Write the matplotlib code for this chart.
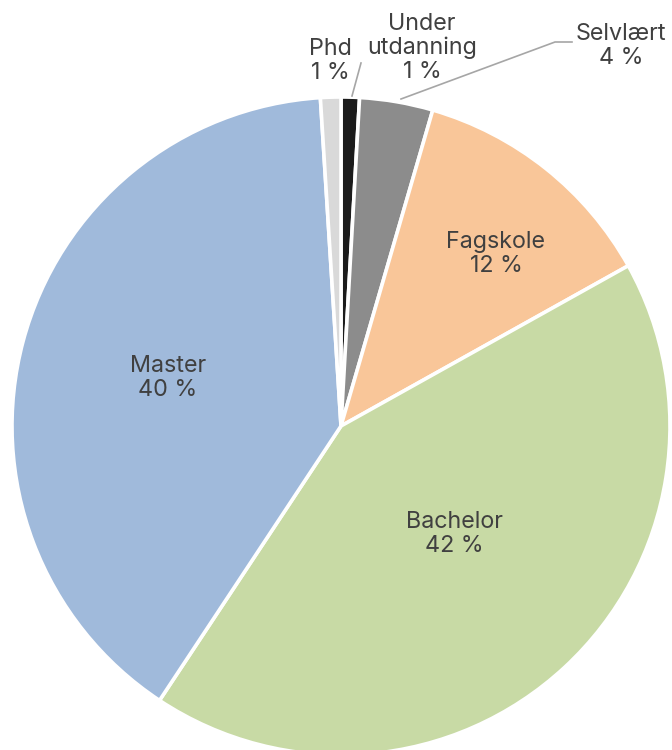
import matplotlib
matplotlib.use('Agg')
import matplotlib.pyplot as plt
import numpy as np

plt.rcParams['font.family'] = ['Inter', 'DejaVu Sans']

# share of respondents by education, clockwise from 12 o'clock
categories = ['Under\nutdanning', 'Selvlært', 'Fagskole', 'Bachelor', 'Master', 'Phd']
values = [0.9, 3.6, 12.4, 42.4, 39.7, 1.0]
colors = ['#1b1b1b', '#8c8c8c', '#f9c699', '#c8daa5', '#a0badb', '#d9d9d9']

W, H = 672, 750
fig = plt.figure(figsize=(W / 100, H / 100), dpi=100)
ax = fig.add_axes([0, 0, 1, 1])

cx, cy, R = 341, H - 426, 329
wedges, _ = ax.pie(values, colors=colors, startangle=90, counterclock=False,
                   center=(cx, cy), radius=R, frame=True,
                   wedgeprops=dict(edgecolor='white', linewidth=2.6))
ax.set_xlim(0, W)
ax.set_ylim(0, H)
ax.set_aspect('equal')
ax.axis('off')

txt = '#404040'
# label anchor (pixel coords, y from top)
label_pos = {
    'Under\nutdanning': (422, 48),
    'Selvlært': (621, 46),
    'Fagskole': (496, 254),
    'Bachelor': (454, 534),
    'Master': (168, 378),
    'Phd': (330, 61),
}
for name, v in zip(categories, values):
    px, py = label_pos[name]
    ax.text(px, H - py, f'{name}\n{round(v)} %', ha='center', va='center',
            fontsize=16.8, color=txt, linespacing=1.12)

# leader lines
lc = '#a6a6a6'
ax.plot([361, 352], [H - 63, H - 96], color=lc, lw=1.2)
ax.plot([572, 555, 401], [H - 42, H - 42, H - 99], color=lc, lw=1.2)

fig.savefig('out.png', dpi=100)
